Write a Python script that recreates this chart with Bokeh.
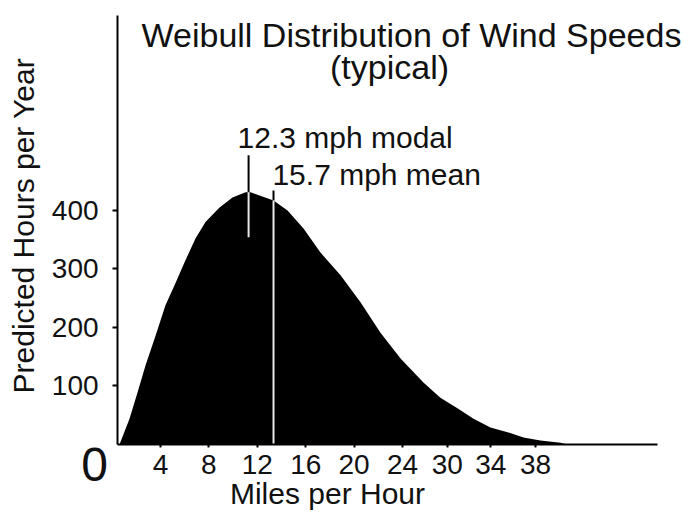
import math
from bokeh.plotting import figure
from bokeh.models import Range1d, FixedTicker, Label
from bokeh.embed import file_html
from bokeh.resources import INLINE

# ---- data ----
speed_mph = [0.61, 1.44, 2.10, 2.76, 3.59, 4.41, 5.16, 5.98, 6.89, 7.72, 8.88, 9.95,
             11.03, 11.44, 13.34, 14.50, 15.82, 17.22, 18.88, 20.53, 22.18, 23.84,
             25.73, 27.13, 28.54, 29.87, 31.27, 32.68, 34.00, 35.40, 37.06, 37.64]
hours = [0, 44, 89, 135, 186, 238, 272, 311, 352, 380, 405, 422,
         431, 431, 417, 400, 369, 328, 289, 243, 191, 147,
         106, 80, 62, 44, 29, 21, 12, 7, 3, 0]

x_tick_pos = [4, 8, 12, 16, 20, 24, 27.7, 31.3, 35.0]
x_tick_labels = ["4", "8", "12", "16", "20", "24", "30", "34", "38"]
y_ticks = [100, 200, 300, 400]

modal_x = 11.28
modal_top = 494
modal_curve = 431
modal_bottom = 354
mean_x = 13.34
mean_top = 434
mean_curve = 417
mean_bottom = 0

title_line1 = "Weibull Distribution of Wind Speeds"
title_line2 = "(typical)"
modal_text = "12.3 mph modal"
mean_text = "15.7 mph mean"
x_title = "Miles per Hour"
y_title = "Predicted Hours per Year"
origin_label = "0"

FONT = "Liberation Sans"
INK = "#111111"

# the frame covers the whole canvas; the axes are pinned at fixed locations
p = figure(width=684, height=510, output_backend="svg", toolbar_location=None,
           x_range=Range1d(-9.223, 47.306), y_range=Range1d(-112.77, 758.6),
           min_border=0, min_border_left=0, min_border_right=0,
           min_border_top=0, min_border_bottom=0)
p.outline_line_color = None
p.xgrid.visible = False
p.ygrid.visible = False
p.background_fill_color = "white"
p.border_fill_color = "white"

# filled distribution
p.varea(x=speed_mph, y1=[0] * len(hours), y2=hours, fill_color="black")

# modal & mean markers
p.segment(x0=[modal_x, mean_x], y0=[modal_curve, mean_curve],
          x1=[modal_x, mean_x], y1=[modal_top, mean_top],
          line_color="black", line_width=2)
p.segment(x0=[modal_x, mean_x], y0=[modal_bottom, mean_bottom],
          x1=[modal_x, mean_x], y1=[modal_curve, mean_curve],
          line_color="#e8e8e8", line_width=2)

# texts
def lab(x, y, text, size, align="left", angle=0.0):
    p.add_layout(Label(x=x, y=y, text=text, text_font=FONT, text_font_size=size,
                       text_color=INK, text_align=align, text_baseline="middle",
                       angle=angle))

lab(10.37, 523.7, modal_text, "30px")
lab(13.25, 461.3, mean_text, "30px")
lab(24.74, 700.5, title_line1, "34px", align="center")
lab(22.93, 644.2, title_line2, "34px", align="center")
lab(-1.45, -34.2, origin_label, "48px", align="center")
lab(17.8, -83.0, x_title, "30px", align="center")
lab(-7.32, 374, y_title, "30px", align="center", angle=math.pi / 2)

# x axis
xa = p.xaxis[0]
xa.fixed_location = 0
xa.bounds = (0.45, 45.07)
xa.ticker = FixedTicker(ticks=x_tick_pos)
xa.major_label_overrides = {k: v for k, v in zip(x_tick_pos, x_tick_labels)}
xa.minor_tick_line_color = None
xa.major_tick_in = 0
xa.major_tick_out = 3
xa.major_tick_line_width = 2
xa.axis_line_width = 2
xa.major_label_standoff = 8
xa.major_label_text_font = FONT
xa.major_label_text_font_size = "28px"
xa.major_label_text_color = INK

# y axis
ya = p.yaxis[0]
ya.fixed_location = 0.45
ya.bounds = (0, 733)
ya.ticker = FixedTicker(ticks=y_ticks)
ya.minor_tick_line_color = None
ya.major_tick_in = 0
ya.major_tick_out = 5
ya.major_tick_line_width = 2
ya.axis_line_width = 2
ya.major_label_standoff = 14
ya.major_label_text_font = FONT
ya.major_label_text_font_size = "28px"
ya.major_label_text_color = INK

open("out.html", "w").write(file_html(p, INLINE))
